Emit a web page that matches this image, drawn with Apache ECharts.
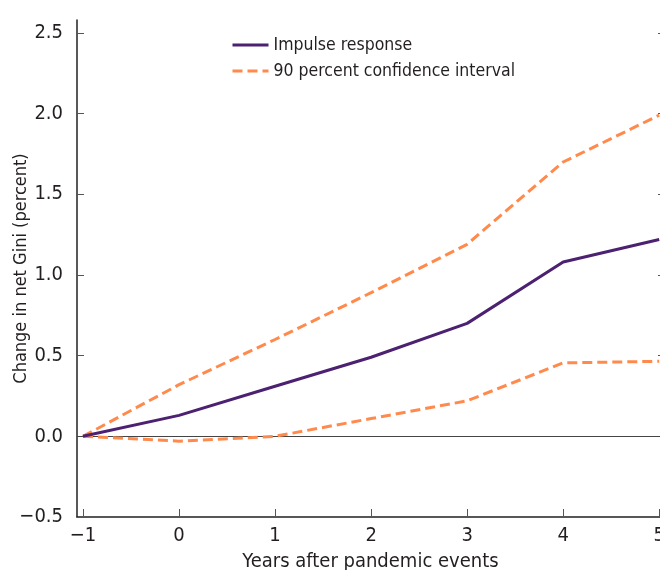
<!DOCTYPE html>
<html>
<head>
<meta charset="utf-8">
<script src="https://cdn.jsdelivr.net/npm/echarts@6/dist/echarts.min.js"></script>
<style>
  html, body { margin: 0; padding: 0; background: #fff; }
  #chart { width: 660px; height: 570px; }
</style>
</head>
<body>
<div id="chart"></div>
<script>
// Years relative to the pandemic event
const years = [-1, 0, 1, 2, 3, 4, 5];
// Change in net Gini (percent)
const impulse = [0, 0.13, 0.31, 0.49, 0.70, 1.08, 1.22];
const upperCI = [0, 0.32, 0.60, 0.89, 1.19, 1.70, 1.99];
const lowerCI = [0, -0.03, 0.0, 0.11, 0.22, 0.455, 0.465];
// Axis tick positions
const xTicks = [-1, 0, 1, 2, 3, 4, 5];
const yTicks = [-0.5, 0, 0.5, 1.0, 1.5, 2.0, 2.5];

const FONT = '"Liberation Sans Narrow", "DejaVu Sans Condensed", sans-serif';
const INK = '#231f20';
const PURPLE = '#4d2171';
const ORANGE = '#ff8a4c';

const pairs = vals => years.map((y, i) => [y, vals[i]]);
const minus = s => String(s).replace('-', '\u2212');

const chart = echarts.init(document.getElementById('chart'), null, { renderer: 'canvas' });

chart.setOption({
  animation: false,
  backgroundColor: '#fff',
  textStyle: { fontFamily: FONT, color: INK },
  grid: { left: 77, right: -4, top: 20, bottom: 53, containLabel: false, outerBoundsMode: 'none' },
  legend: {
    orient: 'vertical',
    left: 226,
    top: 31,
    itemWidth: 36,
    itemHeight: 12,
    itemGap: 8,
    data: ['Impulse response', '90 percent confidence interval'],
    itemStyle: { opacity: 0 },
    lineStyle: { width: 3 },
    textStyle: { fontFamily: FONT, fontSize: 17.5, color: INK, padding: [0, 0, 0, 0] }
  },
  xAxis: {
    type: 'value',
    min: -1.0625,
    max: 5.05,
    interval: 1,
    name: 'Years after pandemic events',
    nameLocation: 'middle',
    nameGap: 35,
    nameMoveOverlap: false,
    nameTextStyle: { fontFamily: FONT, fontSize: 20, color: INK },
    axisLine: { show: true, onZero: false, lineStyle: { color: INK, width: 1.5 } },
    axisTick: { show: true, inside: true, length: 8, customValues: xTicks, lineStyle: { color: '#555', width: 1 } },
    axisLabel: { customValues: xTicks, margin: 9, fontFamily: FONT, fontSize: 20, color: INK, formatter: v => minus(v) },
    splitLine: { show: false }
  },
  yAxis: [{
    type: 'value',
    min: -0.5,
    max: 2.58,
    interval: 0.5,
    name: 'Change in net Gini (percent)',
    nameLocation: 'middle',
    nameGap: 47,
    nameMoveOverlap: false,
    nameTextStyle: { fontFamily: FONT, fontSize: 18, color: INK },
    axisLine: { show: true, onZero: false, lineStyle: { color: INK, width: 1.5 } },
    axisTick: { show: true, inside: true, length: 7, customValues: yTicks, lineStyle: { color: '#555', width: 1 } },
    axisLabel: { customValues: yTicks, margin: 14, fontFamily: FONT, fontSize: 20, color: INK, formatter: v => minus(v.toFixed(1)) },
    splitLine: { show: false }
  }, {
    type: 'value',
    position: 'right',
    min: -0.5,
    max: 2.58,
    interval: 0.5,
    axisLine: { show: true, onZero: false, lineStyle: { color: INK, width: 1.5 } },
    axisTick: { show: true, inside: true, length: 6, customValues: yTicks, lineStyle: { color: '#555', width: 1 } },
    axisLabel: { show: false },
    splitLine: { show: false }
  }],
  series: [
    {
      name: '90 percent confidence interval',
      type: 'line',
      data: pairs(upperCI),
      symbol: 'none',
      lineStyle: { color: ORANGE, width: 3, type: [10, 5] },
      itemStyle: { color: ORANGE },
      z: 3
    },
    {
      name: '90 percent confidence interval',
      type: 'line',
      data: pairs(lowerCI),
      symbol: 'none',
      lineStyle: { color: ORANGE, width: 3, type: [10, 5] },
      itemStyle: { color: ORANGE },
      z: 3
    },
    {
      name: 'Impulse response',
      type: 'line',
      data: pairs(impulse),
      symbol: 'none',
      lineStyle: { color: PURPLE, width: 3 },
      itemStyle: { color: PURPLE },
      z: 4,
      markLine: {
        silent: true,
        symbol: 'none',
        label: { show: false },
        lineStyle: { color: '#444', width: 1, type: 'solid' },
        data: [{ yAxis: 0 }],
        z: 2
      }
    }
  ]
});
</script>
</body>
</html>
